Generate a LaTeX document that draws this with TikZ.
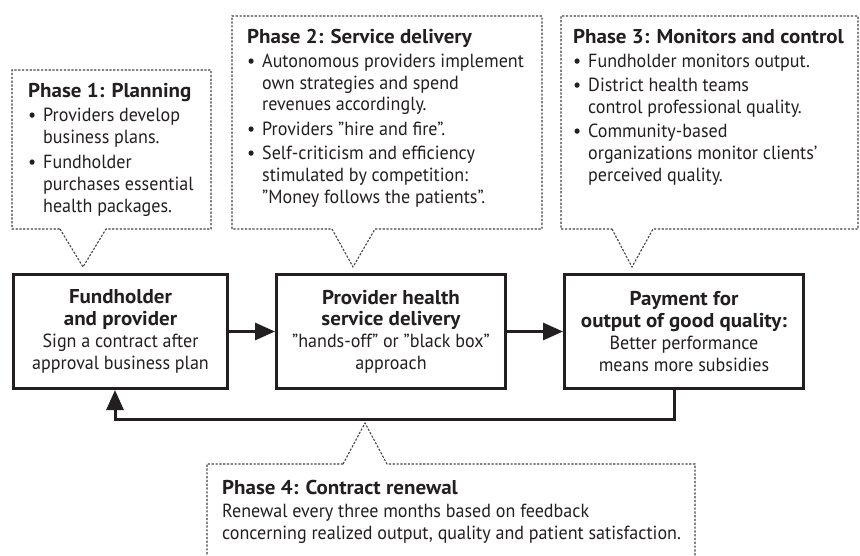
\documentclass[tikz,border=0pt]{standalone}
\usepackage{fontspec}
\setmainfont{PT Sans}[FakeStretch=0.95]
\newfontfamily\hdfont{PT Sans Bold}[FakeStretch=1.05]
\usetikzlibrary{arrows.meta}
\definecolor{ink}{HTML}{231F20}
\newcommand\fs{\fontsize{19}{21.8}\selectfont}
\newcommand\hb[1]{{\hdfont\fontsize{20}{21.8}\selectfont #1}}
\newcommand\bl{\makebox[15pt][l]{\textbullet}}
\newcommand\ind{\hspace*{15pt}}
\tikzset{
  mainbox/.style={draw=ink, line width=3pt, fill=white, inner sep=0pt, align=center, font=\fs, text=ink},
  callout/.style={draw=ink!85, line width=1.1pt, dash pattern=on 2.2pt off 1.6pt},
  ctext/.style={inner sep=0pt, align=left, font=\fs, text=ink, anchor=north west},
  arr/.style={draw=ink, line width=3pt, -{Triangle[length=20pt,width=17pt]}}
}
\begin{document}
\begin{tikzpicture}[x=1pt,y=-1pt]
\useasboundingbox (0,0) rectangle (860,556);
% callouts
\coordinate (t1) at (83,267);
\coordinate (t2) at (353,267);
\coordinate (t3) at (632,267);
\coordinate (t4) at (365,423);
\draw[callout] (60,229) -- (t1) -- (106,229) -- (211,229) -- (211,70) -- (12,70) -- (12,229) -- cycle;
\draw[callout] (332,229) -- (t2) -- (375,229) -- (542,229) -- (542,16) -- (232,16) -- (232,229) -- cycle;
\draw[callout] (612,229) -- (t3) -- (653,229) -- (858,229) -- (858,16) -- (561,16) -- (561,229) -- cycle;
\draw[callout] (343,464) -- (t4) -- (387,464) -- (695,464) -- (695,570) -- (207,570) -- (207,464) -- cycle;

\node[ctext] (p1) at (28,83) {\hb{Phase 1: Planning}\\[2.5pt]
\bl Providers develop\\ \ind business plans.\\[3.5pt]
\bl Fundholder\\ \ind purchases essential\\ \ind health packages.};

\node[ctext] (p2) at (247,29) {\hb{Phase 2: Service delivery}\\[2pt]
\bl Autonomous providers implement\\ \ind own strategies and spend\\ \ind revenues accordingly.\\[2.5pt]
\bl Providers ”hire and fire”.\\[3pt]
\bl Self-criticism and efficiency\\ \ind stimulated by competition:\\ \ind ”Money follows the patients”.};

\node[ctext] (p3) at (573,29) {\hb{Phase 3: Monitors and control}\\[2pt]
\bl Fundholder monitors output.\\[2.5pt]
\bl District health teams\\ \ind control professional quality.\\[2.5pt]
\bl Community-based\\ \ind organizations monitor clients’\\ \ind perceived quality.};

\node[ctext] (p4) at (222,480) {\hb{Phase 4: Contract renewal}\\[1pt]
Renewal every three months based on feedback\\
concerning realized output, quality and patient satisfaction.};

% main boxes
\node[mainbox, minimum width=214pt, minimum height=114pt] (b1) at (120.5,331.5)
  {\hb{Fundholder}\\ \hb{and provider}\\ Sign a contract after\\ approval business plan};
\node[mainbox, minimum width=229pt, minimum height=114pt] (b2) at (391,331.5)
  {\hb{Provider health}\\ \hb{service delivery}\\ ”hands-off” or ”black box”\\ approach};
\node[mainbox, minimum width=239pt, minimum height=114pt] (b3) at (684,331.5)
  {\hb{Payment for}\\ \hb{output of good quality:}\\ Better performance\\ means more subsidies};

\draw[arr] (b1) -- (b2);
\draw[arr] (b2) -- (b3);
\draw[arr] ([xshift=-10pt]b3.south) -- ++(0,29) -| ([xshift=-5.5pt]b1.south);
\end{tikzpicture}
\end{document}
